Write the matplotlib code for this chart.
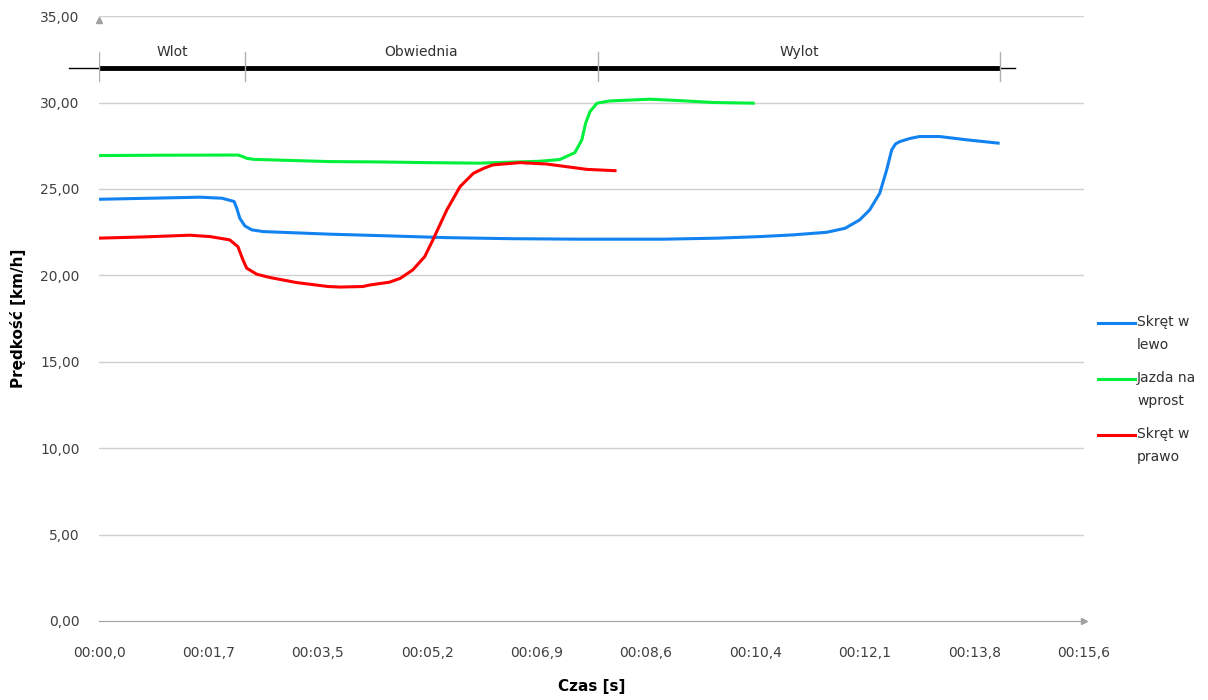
import numpy as np
import matplotlib
matplotlib.use('Agg')
import matplotlib.pyplot as plt

plt.rcParams['font.family'] = ['Liberation Sans Narrow', 'DejaVu Sans']

# czas [s] i predkosc [km/h]
t_lewo = [0.0, 0.8, 1.6, 1.95, 2.14, 2.18, 2.23, 2.31, 2.42, 2.6, 3.66, 4.6, 5.5, 6.5, 7.62, 8.94, 9.8, 10.47,
          11.0, 11.53, 11.82, 12.05, 12.21, 12.37, 12.48, 12.56, 12.62, 12.69, 12.85, 13.0, 13.32, 13.75, 14.27]
v_lewo = [24.40, 24.46, 24.52, 24.46, 24.27, 23.9, 23.3, 22.86, 22.63, 22.53, 22.38, 22.28, 22.18, 22.12, 22.09,
          22.09, 22.15, 22.24, 22.34, 22.49, 22.72, 23.2, 23.78, 24.75, 26.1, 27.26, 27.6, 27.74, 27.92, 28.03,
          28.03, 27.84, 27.64]

t_wprost = [0.0, 1.0, 2.2, 2.27, 2.34, 2.45, 3.66, 4.45, 5.2, 6.03, 6.98, 7.3, 7.54, 7.65, 7.71, 7.78, 7.89, 8.09,
            8.73, 9.2, 9.73, 10.39]
v_wprost = [26.93, 26.95, 26.96, 26.88, 26.77, 26.71, 26.58, 26.56, 26.52, 26.49, 26.6, 26.7, 27.1, 27.84, 28.8,
            29.48, 29.96, 30.09, 30.19, 30.11, 30.0, 29.96]

t_prawo = [0.0, 0.7, 1.44, 1.76, 2.07, 2.2, 2.28, 2.34, 2.5, 2.71, 3.13, 3.63, 3.82, 4.18, 4.29, 4.6, 4.77, 4.97,
           5.16, 5.29, 5.51, 5.72, 5.93, 6.1, 6.24, 6.67, 7.09, 7.73, 8.2]
v_prawo = [22.15, 22.22, 22.32, 22.24, 22.05, 21.66, 20.89, 20.41, 20.06, 19.87, 19.58, 19.35, 19.32, 19.35, 19.44,
           19.6, 19.82, 20.31, 21.08, 22.05, 23.78, 25.13, 25.90, 26.2, 26.39, 26.52, 26.44, 26.13, 26.05]

serie = [('Skręt w\nlewo', t_lewo, v_lewo, '#1282f0'),
         ('Jazda na\nwprost', t_wprost, v_wprost, '#00f03c'),
         ('Skręt w\nprawo', t_prawo, v_prawo, '#ff0000')]

x_ticks = list(np.linspace(0, 15.6, 10))
x_labels = ['00:00,0', '00:01,7', '00:03,5', '00:05,2', '00:06,9', '00:08,6', '00:10,4', '00:12,1', '00:13,8',
            '00:15,6']
y_ticks = [0, 5, 10, 15, 20, 25, 30, 35]

# odcinki: Wlot / Obwiednia / Wylot
granice = [0.0, 2.31, 7.91, 14.27]
odcinki = ['Wlot', 'Obwiednia', 'Wylot']

W, H = 1208, 700
fig = plt.figure(figsize=(W / 100, H / 100), dpi=100)
ax = fig.add_axes([0.082, 0.113, 0.815, 0.864])

for y in y_ticks[1:]:
    ax.axhline(y, color='#d0d0d0', lw=1, zorder=0)

for name, t, v, c in serie:
    ax.plot(t, v, color=c, lw=2.2, solid_capstyle='butt', solid_joinstyle='round')

# pasek z odcinkami
ax.plot([-0.48, 14.51], [32, 32], color='black', lw=1, clip_on=False)
ax.plot([granice[0], granice[-1]], [32, 32], color='black', lw=3.5, solid_capstyle='butt')
for g in granice:
    ax.plot([g, g], [31.25, 32.9], color='#b0b0b0', lw=1)
for i, name in enumerate(odcinki):
    ax.text((granice[i] + granice[i + 1]) / 2, 32.9, name, ha='center', va='center', fontsize=10, color='#303030')

ax.set_xlim(0, 15.6)
ax.set_ylim(0, 35)
ax.set_xticks(x_ticks)
ax.set_xticklabels(x_labels)
ax.set_yticks(y_ticks)
ax.set_yticklabels([('%.2f' % y).replace('.', ',') for y in y_ticks])
ax.tick_params(axis='both', length=0, labelsize=10, labelcolor='#404040')
ax.tick_params(axis='x', pad=18)
ax.tick_params(axis='y', pad=14)

for s in ['top', 'right', 'left']:
    ax.spines[s].set_visible(False)
ax.spines['bottom'].set_color('#a0a0a0')
ax.plot([15.6], [0], marker='>', color='#a0a0a0', ms=5, clip_on=False)
ax.plot([0], [34.75], marker='^', color='#a0a0a0', ms=4, clip_on=False)

ax.set_xlabel('Czas [s]', fontsize=11, fontweight='bold', labelpad=14)
ax.set_ylabel('Prędkość [km/h]', fontsize=11, fontweight='bold', labelpad=10)

# legenda rysowana recznie: kreska na wysokosci pierwszej linii opisu
for i, (name, t, v, c) in enumerate(serie):
    yy = 1 - (323 + 56 * i) / H
    fig.add_artist(plt.Line2D([1098 / W, 1135 / W], [yy, yy], color=c, lw=2.2))
    fig.text(1137 / W, yy + 8 / H, name, ha='left', va='top', fontsize=10, color='#303030', linespacing=1.85)

fig.savefig('out.png', dpi=100)
